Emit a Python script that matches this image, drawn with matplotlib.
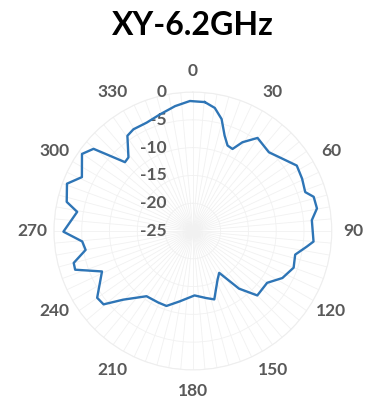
import numpy as np
import matplotlib
matplotlib.use("Agg")
import matplotlib.pyplot as plt
from matplotlib import transforms

# ---- data (angle in deg, gain in dB) ----
angles = [5.3, 10.1, 14.4, 18.4, 22.1, 25.8, 29.2, 34.8, 44, 51, 57.8, 64.4,
          70.9, 74.2, 79.7, 84.8, 95, 97.8, 103, 110, 117.7, 124.9, 135,
          141.3, 147.8, 153, 162.6, 168.8, 178.5, 190.7, 199.4, 205.8, 215.4,
          225.4, 230.6, 235.1, 246, 251.8, 255, 260, 264.6, 269.7, 279.4, 283,
          290.6, 295.9, 304.8, 309.6, 315.4, 318.8, 325.5, 329.7, 336.9, 344.2,
          351.9, 358.7]
gain = [-1.7, -2.5, -4.2, -6.9, -8.4, -8.6, -6.7, -4.6, -5.3, -4.3, -2.9,
        -3.2, -3.6, -2.4, -2.3, -3.5, -3.2, -4.3, -6.1, -5.7, -6.8, -8.7, -8.6,
        -11.7, -16.1, -15.2, -12.1, -12.7, -13.4, -12.1, -10.7, -10.7, -10.6,
        -7.4, -4.2, -4.0, -7.1, -2.7, -2.8, -5.4, -5.0, -1.7, -3.9, -1.7,
        -0.8, -2.8, -0.7, -1.8, -7.6, -7.4, -4.2, -3.8, -3.8, -3.2,
        -2.3, -1.6]
r_ticks = [0, -5, -10, -15, -20, -25]
theta_labels = [0, 30, 60, 90, 120, 150, 180, 210, 240, 270, 300, 330]

title = "XY-6.2GHz"
LINE = "#2E75B6"
TXT = "#595959"
FONT = ["Lato", "DejaVu Sans"]

fig = plt.figure(figsize=(3.67, 4.0), dpi=100)
ax = fig.add_axes([0.147, 0.075, 0.757, 0.695], projection="polar")
ax.set_theta_zero_location("N")
ax.set_theta_direction(-1)
ax.set_ylim(-25, 0)

# very faint grid: rings every 5 dB, spokes every 5 deg
ax.set_yticks(r_ticks)
ax.set_yticklabels([])
ax.set_xticks(np.deg2rad(np.arange(0, 360, 5)))
ax.set_xticklabels([])
ax.grid(True, color="#f1f1f1", lw=0.6)
ax.spines["polar"].set_color("#eeeeee")
ax.spines["polar"].set_linewidth(0.8)
ax.tick_params(length=0)

th = np.deg2rad(angles + [angles[0]])
ax.plot(th, gain + [gain[0]], color=LINE, lw=1.7, zorder=5)

# angular labels outside the ring
for a in theta_labels:
    ax.text(np.deg2rad(a), 3.8, str(a), ha="center", va="center",
            fontsize=12.5, fontweight="bold", color=TXT, family=FONT,
            clip_on=False)

# radial labels left of the 0-deg spoke
off = transforms.offset_copy(ax.transData, fig=fig, x=-26, y=0, units="dots")
for v in r_ticks:
    ax.text(0, v, str(v), transform=off, ha="right", va="center",
            fontsize=12.5, fontweight="bold", color=TXT, family=FONT,
            clip_on=False)

fig.text(0.526, 0.937, title, ha="center", va="center", fontsize=23,
         fontweight="bold", color="black", family=FONT)

fig.savefig("out.png", dpi=100)
